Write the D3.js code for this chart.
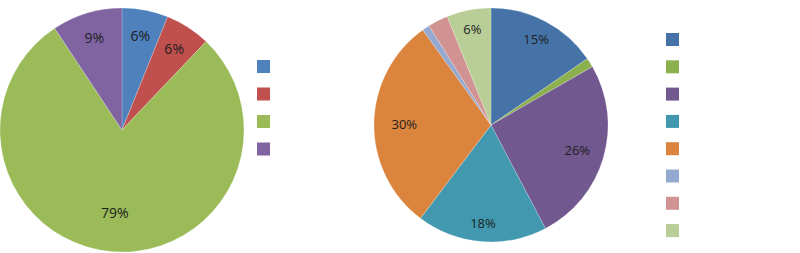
<!DOCTYPE html>
<html>
<head>
<meta charset="utf-8">
<script src="https://cdn.jsdelivr.net/npm/d3@7"></script>
<style>
  body { margin: 0; background: #fff; }
  svg { display: block; }
</style>
</head>
<body>
<svg id="chart" width="800" height="253"></svg>
<script>
// Left pie: 4 slices, clockwise from 12 o'clock
const leftValues = [6.1, 6.0, 78.6, 9.3];
const leftColors = ['#4f81bd', '#c0504d', '#9bbb59', '#8064a2'];

// Right pie: 8 slices, clockwise from 12 o'clock
const rightValues = [15.4, 1.3, 25.6, 18.0, 29.8, 1.0, 2.8, 6.1];
const rightColors = ['#4572a7', '#8db04e', '#71588f', '#4198af', '#db843d', '#93a9cf', '#d19392', '#b9cd96'];

const svg = d3.select('#chart');

// Draw one pie with its legend of colour squares
function drawPie(values, colors, opts) {
    const g = svg.append('g')
        .attr('transform', 'translate(' + opts.cx + ',' + opts.cy + ')');

    const pie = d3.pie().sort(null).value(d => d);
    const arcs = pie(values);
    const total = d3.sum(values);

    const arc = d3.arc().innerRadius(0).outerRadius(opts.r);

    g.selectAll('path')
        .data(arcs)
        .enter()
        .append('path')
        .attr('d', arc)
        .attr('fill', (d, i) => colors[i])
        .attr('stroke', 'rgba(255,255,255,0.35)')
        .attr('stroke-width', 0.6);

    // Percentage labels, small slices get none
    g.selectAll('text')
        .data(arcs.filter(d => d.value / total >= 0.04))
        .enter()
        .append('text')
        .attr('transform', d => {
            const k = opts.labelR(d);
            const c = d3.arc().innerRadius(k * opts.r).outerRadius(k * opts.r).centroid(d);
            return 'translate(' + c[0] + ',' + c[1] + ')';
        })
        .attr('text-anchor', 'middle')
        .attr('dominant-baseline', 'central')
        .attr('font-family', '"Open Sans", "Liberation Sans", sans-serif')
        .attr('font-size', opts.fontSize)
        .attr('fill', '#1e1e1e')
        .text(d => Math.round(d.value / total * 100) + '%');

    // Legend: colour squares only
    const legend = svg.append('g')
        .attr('transform', 'translate(' + opts.legendX + ',' + opts.legendY + ')');

    const ly = d3.scaleLinear().domain([0, 1]).range([0, opts.legendStep]);

    legend.selectAll('rect')
        .data(colors)
        .enter()
        .append('rect')
        .attr('x', 0)
        .attr('y', (d, i) => ly(i))
        .attr('width', 13)
        .attr('height', 13)
        .attr('fill', d => d);
}

// labels near the top/bottom sit a bit further out, like the reference
function ringFactor(base, extra) {
    return d => {
        const mid = (d.startAngle + d.endAngle) / 2;
        return base + extra * Math.abs(Math.cos(mid));
    };
}

drawPie(leftValues, leftColors, {
    cx: 122, cy: 130, r: 122,
    fontSize: 14,
    labelR: d => (d.endAngle - d.startAngle > Math.PI ? 0.68 : 0.79),
    legendX: 257, legendY: 60, legendStep: 27.5
});

drawPie(rightValues, rightColors, {
    cx: 491, cy: 125, r: 117,
    fontSize: 13,
    labelR: ringFactor(0.74, 0.1),
    legendX: 666, legendY: 33, legendStep: 27.3
});
</script>
</body>
</html>
